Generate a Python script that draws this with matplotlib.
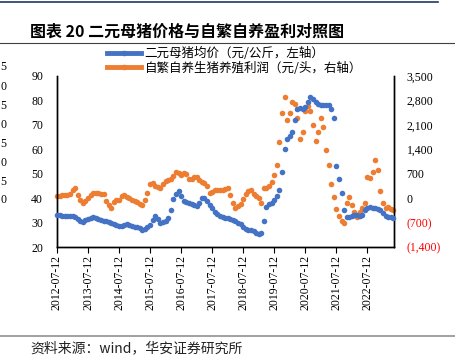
import numpy as np
import pandas as pd
import matplotlib
matplotlib.use("Agg")
import matplotlib.pyplot as plt
from matplotlib.lines import Line2D

# monthly readings, 2012-07 .. 2023-05
dates = pd.date_range("2012-07-12", periods=131, freq=pd.DateOffset(months=1))

sow_price = [
    33.1, 33.0, 32.8, 32.8, 32.7, 32.6, 32.5, 32.3, 31.5, 30.8,
    30.4, 30.9, 31.5, 32.0, 32.2, 31.9, 31.4, 31.0, 30.8, 30.5,
    30.2, 29.9, 29.6, 29.1, 28.7, 28.8, 29.1, 29.4, 29.0, 28.7,
    28.3, 28.0, 27.6, 27.1, 27.3, 28.2, 29.2, 31.0, 32.8, 31.5,
    29.8, 30.2, 30.8, 31.8, 35.0, 39.5, 41.5, 43.0, 41.0, 39.0,
    38.5, 38.0, 37.6, 37.2, 36.8, 38.0, 40.0, 40.2, 38.8, 37.3,
    35.8, 34.5, 33.5, 32.8, 32.3, 32.0, 31.7, 31.4, 31.0, 30.5,
    30.0, 29.4, 28.3, 27.2, 27.0, 26.8, 26.4, 25.7, 25.4, 25.6,
    30.5, 36.5, 37.4, 38.2, 39.2, 41.0, 43.5, 50.5, 60.0, 64.3,
    65.5, 67.2, 72.0, 76.5, 77.0, 76.3, 77.5, 79.2, 81.6, 80.6,
    79.3, 78.6, 78.2, 78.0, 78.2, 78.0, 76.5, 73.0, 53.0, 47.8,
    42.0, 35.0, 32.4, 32.4, 32.6, 32.9, 33.1, 32.7, 33.0, 35.2,
    35.8, 36.2, 35.9, 35.8, 35.6, 35.2, 33.8, 32.8, 32.4, 32.2,
    31.7,
]

profit = [
    60, 75, 85, 90, 95, 130, 230, 280, 100, -60,
    -130, -70, -5, 90, 140, 140, 145, 130, 110, -90,
    -200, -290, -100, -50, -40, 60, 90, 40, -5, -50,
    -90, -110, -160, -190, -50, 150, 400, 420, 340, 320,
    280, 400, 500, 530, 540, 640, 760, 720, 670, 720,
    700, 560, 540, 610, 616, 530, 470, 420, 360, 150,
    180, 230, 230, 240, 234, 260, 282, 100, -150, -290,
    -230, -180, -20, 110, 200, 220, 130, 60, -10, -150,
    280, 300, 340, 450, 650, 950, 1600, 2450, 2900, 2250,
    2450, 2750, 2700, 2300, 1700, 1900, 2500, 2650, 2500, 2100,
    1650, 1900, 2300, 2050, 1380, 950, 400, 30, -300, -500,
    -650, -720, -150, 20, -200, -400, -530, -400, -290, -150,
    600, 570, 750, 1100, 800, 200, -150, -290, -250, -320,
    -340,
]

x_ticks = ["2012-07-12", "2013-07-12", "2014-07-12", "2015-07-12", "2016-07-12",
           "2017-07-12", "2018-07-12", "2019-07-12", "2020-07-12", "2021-07-12",
           "2022-07-12"]
left_ticks = [20, 30, 40, 50, 60, 70, 80, 90]
right_ticks = [-1400, -700, 0, 700, 1400, 2100, 2800, 3500]
right_labels = ["(1,400)", "(700)", "0", "700", "1,400", "2,100", "2,800", "3,500"]

blue = "#4472C4"
orange = "#ED7D31"
serif = "Liberation Serif"
cjk = ["Noto Sans CJK SC", "DejaVu Sans"]

W, H = 456, 364
fig = plt.figure(figsize=(W / 100, H / 100), dpi=100)
ax = fig.add_axes([57 / W, 1 - 247 / H, 337 / W, 171 / H])
ax2 = ax.twinx()

ax.plot(dates, sow_price, "o", color=blue, ms=4.0, mew=0, clip_on=False, zorder=3)
ax2.plot(dates, profit, "o", color=orange, ms=4.0, mew=0, clip_on=False, zorder=2)
ax.set_zorder(ax2.get_zorder() + 1)
ax.patch.set_visible(False)

ax.set_xlim(pd.Timestamp("2012-07-12"), pd.Timestamp("2023-05-23"))
ax.set_ylim(20, 90)
ax2.set_ylim(-1400, 3500)

ax.set_xticks(pd.to_datetime(x_ticks))
ax.set_xticklabels(x_ticks, rotation=90, fontsize=8.5, family=serif)
ax.set_yticks(left_ticks)
ax.set_yticklabels([str(v) for v in left_ticks], fontsize=8.5, family=serif)
ax2.set_yticks(right_ticks)
ax2.set_yticklabels(right_labels, fontsize=8.5, family=serif)
for t, v in zip(ax2.get_yticklabels(), right_ticks):
    if v < 0:
        t.set_color("red")

ax.tick_params(axis="y", length=0, pad=10)
ax2.tick_params(axis="y", length=0, pad=9)
ax.tick_params(axis="x", length=4, width=0.8, pad=2, direction="out")
for a in (ax, ax2):
    a.spines["top"].set_visible(False)
    for s in ("left", "right", "bottom"):
        a.spines[s].set_linewidth(1.0)
        a.spines[s].set_color("black")

# legend
handles = [Line2D([], [], color=blue, lw=3.5, marker="o", ms=3),
           Line2D([], [], color=orange, lw=3.5, marker="o", ms=3)]
labels = ["二元母猪均价（元/公斤，左轴）", "自繁自养生猪养殖利润（元/头，右轴）"]
fig.legend(handles, labels, loc="upper left", bbox_to_anchor=(107 / W, 1 - 47 / H),
           bbox_transform=fig.transFigure, frameon=False, prop={"family": cjk, "size": 9},
           handlelength=2.7, handletextpad=0.3, labelspacing=0.12, borderpad=0,
           borderaxespad=0)

# frame lines and texts
fig.add_artist(Line2D([0, 438 / W], [1 - 2 / H] * 2, color="#1F3864", lw=1.2,
                      transform=fig.transFigure))
fig.add_artist(Line2D([0, 1], [1 - 43 / H] * 2, color="#404040", lw=0.8,
                      transform=fig.transFigure))
fig.add_artist(Line2D([0, 1], [1 - 336 / H] * 2, color="#909090", lw=1.2,
                      transform=fig.transFigure))
fig.text(30 / W, 1 - 32 / H, "图表 20 二元母猪价格与自繁自养盈利对照图", fontsize=11.5,
         fontweight="bold", family=cjk, va="center")
fig.text(30 / W, 1 - 348 / H, "资料来源：wind，华安证券研究所", fontsize=10,
         family=cjk, va="center", color="#222222")

# last digits of the neighbouring chart's labels at the left edge
edge_labels = ["5", "0", "5", "0", "5", "0", "5", "0"]
edge_y = [67, 87, 106, 125, 144, 163, 182, 200]
for lab, yy in zip(edge_labels, edge_y):
    fig.text(0.5 / W, 1 - yy / H, lab, fontsize=8.5, family=serif, ha="left", va="center")

fig.savefig("out.png", dpi=100)
